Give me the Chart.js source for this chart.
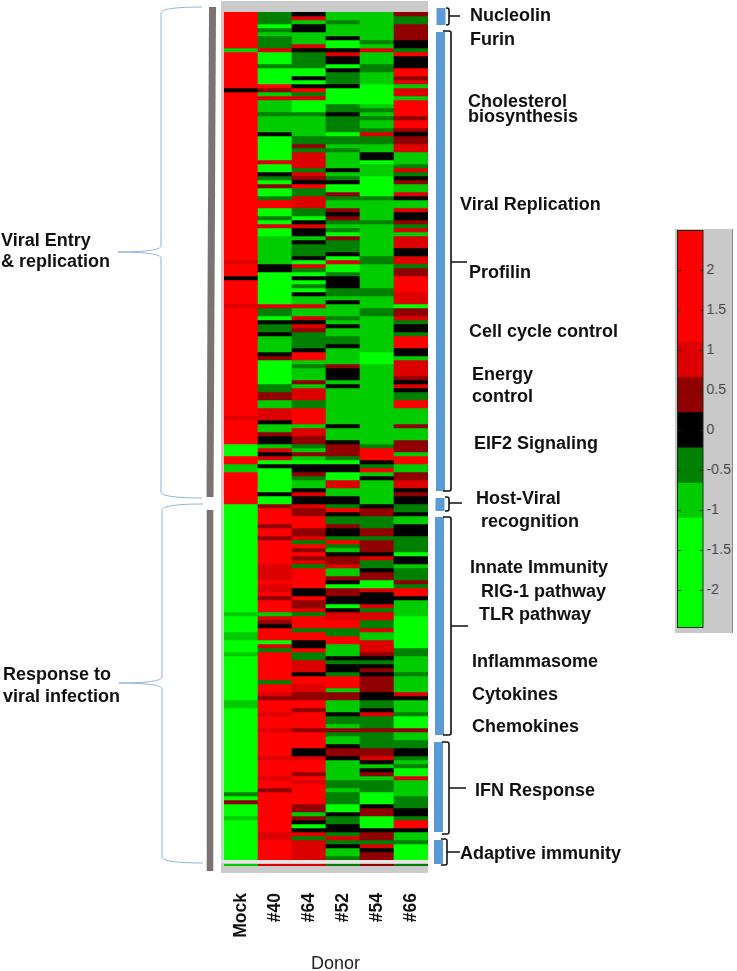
<!DOCTYPE html>
<html>
<head>
<meta charset="utf-8">
<style>
  body { margin: 0; background: #fff; }
  #heat { position: absolute; left: 0; top: 0; }
  #scale { position: absolute; left: 675px; top: 229px; background: #c9c9c9; border-right: 1px solid #8a8a8a; }
</style>
</head>
<body>
<canvas id="heat" width="737" height="971"></canvas>
<canvas id="scale" width="58" height="404"></canvas>
<script src="https://cdn.jsdelivr.net/npm/chart.js@4"></script>
<script>
const donors = ['Mock', '#40', '#64', '#52', '#54', '#66'];

// one value per gene row (10 per line)
const mock = [
  2,2,2,2,2,2,2,2,2,-1,
  2,2,2,2,2,2,2,2,2,0,
  2,2,2,2,2,2,2,2,2,2,
  2,2,2,2,2,2,2,2,2,2,
  2,2,2,2,2,2,2,2,2,2,
  2,2,2,2,2,2,2,2,2,2,
  2,2,1,2,2,2,0,2,2,2,
  2,2,2,1,2,2,2,2,2,2,
  2,2,2,2,2,2,2,2,2,2,
  2,2,2,2,2,2,2,2,2,2,
  2,1,2,2,2,2,2,2,-2,-2,
  -2,2,2,-1,-1,2,2,2,2,2,
  2,2,2,-2,-2,-2,-2,-2,-2,-2,
  -2,-2,-2,-2,-2,-2,-2,-2,-2,-2,
  -2,-2,-2,-2,-2,-2,-2,-2,-2,-2,
  -1,-2,-2,-2,-2,-1,-1,-2,-2,-2,
  -1,-2,-2,-2,-2,-2,-2,-2,-2,-2,
  -2,-2,-1,-1,-2,-2,-2,-2,-2,-2,
  -2,-2,-2,-2,-2,-2,-2,-2,-2,-2,
  -2,-2,-2,-2,-2,-.5,-2,.5,-2,-2,
  -2,-1,-2,-2,-2,-2,-2,-2,-2,-2,
  -2,-2
];
const d40 = [
  -.5,-.5,-.5,-2,-.5,-1,-.5,-.5,-.5,1,
  -2,-2,-2,-.5,-2,-2,-2,-2,2,.5,
  -1,1,-1,-1,-1,-.5,-1,-1,-1,-1,
  0,-2,-2,-2,-2,-2,-2,1,-2,-2,
  0,-.5,-2,.5,-2,-2,-.5,2,2,-2,
  -2,-.5,-2,1,-2,-2,-1,-1,-1,-1,
  -1,-1,-1,0,0,-2,-2,-2,-2,-2,
  -2,-2,-2,1,-.5,-.5,-2,0,-.5,-.5,
  0,-1,-1,-1,-1,0,.5,-2,-2,-2,
  -2,-2,-2,-.5,-.5,.5,.5,-1,-1,1,
  1,1,0,-1,-1,.5,0,0,-1,1,
  0,1,-2,0,-2,-2,-2,-2,-2,-2,
  0,-2,-2,.5,2,2,2,2,.5,2,
  2,.5,2,2,2,2,2,2,1,1,
  1,1,2,1,1,2,.5,2,2,2,
  -1,1,.5,0,2,2,2,-2,1,-.5,
  2,2,2,2,2,2,2,-.5,2,2,
  1,.5,2,2,2,1,2,2,2,1,
  2,2,2,2,2,2,1,2,2,2,
  2,1,2,2,.5,2,2,2,2,2,
  2,2,2,2,2,1,1,2,2,2,
  2,2
];
const d64 = [
  0,1,-1,0,0,-1,-1,-1,1,0,
  -.5,-.5,-.5,-.5,-2,-2,0,-2,0,2,
  -.5,1,-2,-2,-2,-.5,-1,-1,-1,-1,
  -1,-.5,-.5,.5,-.5,1,1,1,1,-.5,
  1,.5,0,2,-.5,-.5,1,1,1,-.5,
  -.5,-2,0,1,0,0,-1,0,-.5,-.5,
  -.5,0,-2,1,-.5,-2,0,-2,-.5,-2,
  0,-1,-1,1,-1,-1,1,0,1,.5,
  -.5,-.5,-.5,-.5,0,2,2,-1,-.5,-1,
  -1,-1,.5,-1,1,1,1,-.5,-.5,2,
  2,2,2,-1,1,1,.5,.5,-.5,-1,
  .5,-1,-2,0,0,.5,-.5,-1,-1,0,
  1,0,0,1,.5,.5,2,2,2,.5,
  .5,1,-.5,2,.5,2,.5,1,-.5,2,
  2,2,2,2,0,0,2,.5,.5,1,
  -.5,2,2,2,-.5,2,2,0,0,2,
  -.5,-.5,1,1,1,0,2,2,1,1,
  .5,.5,2,2,.5,2,2,2,2,.5,
  2,2,2,2,0,0,1,2,2,2,
  .5,2,1,2,2,2,2,2,.5,.5,
  -1,.5,0,-2,0,1,-.5,1,1,1,
  1,1
];
const d52 = [
  -1,-1,-.5,-1,-1,-1,0,-2,-2,0,
  1,0,0,-2,0,-.5,-.5,-.5,0,-2,
  -2,-2,-2,-.5,-.5,0,-.5,-.5,-.5,-.5,
  -2,-.5,-.5,-1,-.5,-1,-1,-1,-1,0,
  -1,-.5,0,-2,-2,.5,-.5,-1,-1,.5,
  0,.5,-.5,-1,-.5,-2,.5,-.5,-.5,-.5,
  0,-2,1,-2,-2,-.5,0,0,0,-.5,
  -.5,-1,0,-1,-1,-1,-.5,-1,0,-1,
  -1,-.5,-.5,0,-1,-1,-1,-1,.5,0,
  0,0,-1,0,-1,-1,-1,-1,-1,-1,
  -1,-1,-1,0,-1,-1,-1,0,.5,.5,
  .5,-.5,-2,0,0,-2,-2,1,1,-1,
  -1,0,0,-.5,2,0,-.5,-.5,.5,0,
  0,-.5,2,-.5,-1,0,.5,.5,1,-1,
  -1,.5,0,-2,.5,.5,0,0,-2,0,
  1,1,2,2,-.5,-.5,2,2,-1,-1,
  -1,0,-.5,0,0,-.5,2,2,2,-1,
  .5,.5,-1,-1,-1,0,-.5,-.5,-1,.5,
  -.5,-1,-1,0,.5,.5,0,-1,-1,-1,
  -1,-1,-.5,-.5,-1,-.5,-.5,-.5,-2,-2,
  0,-.5,-.5,0,0,-.5,1,-.5,0,-1,
  -1,-.5
];
const d54 = [
  -1,-1,-1,-1,-1,-1,-1,-.5,-1,1,
  -1,-1,-1,-.5,-.5,-1,-1,-1,-2,-2,
  -2,-2,-2,-1,-.5,-1,-.5,-1,-1,-.5,
  1,-.5,-.5,-1,-1,0,0,-2,-1,-1,
  -1,-2,-2,-2,-2,-2,-.5,-1,-1,-1,
  -1,-1,-.5,-1,-1,-1,-1,-1,-1,-1,
  -1,-.5,-.5,-1,-1,-1,-1,-1,-1,-.5,
  -.5,-1,-1,-1,-.5,-.5,-1,-1,-1,-1,
  -1,-1,-1,-1,-1,-2,-2,-2,-1,-1,
  -1,-1,-1,-1,-1,-1,-1,-1,-1,-1,
  -1,-1,-1,-1,-1,-1,-1,-1,-.5,2,
  2,2,0,-.5,2,-1,0,-1,-1,-1,
  -1,-1,-1,0,.5,.5,-.5,-.5,-.5,.5,
  .5,-.5,.5,.5,.5,0,1,-.5,-.5,0,
  .5,.5,-2,-2,1,0,0,0,1,-.5,
  1,1,-.5,-.5,1,-1,-1,1,1,1,
  .5,0,-.5,0,.5,0,.5,.5,.5,.5,
  0,0,-.5,-.5,0,1,-.5,-.5,-.5,.5,
  -.5,-.5,-.5,-.5,.5,.5,1,0,-1,0,
  .5,-1,-.5,-.5,-.5,-2,-2,-2,0,.5,
  .5,-2,-2,-2,0,.5,.5,-.5,1,0,
  .5,.5
];
const d66 = [
  .5,-.5,-.5,.5,.5,.5,.5,0,0,-.5,
  2,0,0,0,2,2,.5,1,-1,1,
  1,-1,2,2,2,2,.5,2,2,.5,
  0,.5,.5,1,1,-1,-1,-1,-.5,1,
  -.5,0,.5,-1,-1,1,0,-1,-1,1,
  0,0,.5,-.5,1,-1,1,1,1,0,
  0,1,1,-.5,.5,.5,2,2,2,2,
  1,1,1,-2,.5,.5,1,-.5,0,0,
  -.5,2,2,2,0,0,-1,1,1,1,
  1,.5,0,1,0,-.5,-.5,2,2,-1,
  -1,-1,-1,.5,-1,-1,-1,.5,.5,.5,
  -1,2,2,-1,-1,.5,.5,1,1,0,
  .5,0,0,-.5,-.5,0,-1,-1,0,0,
  0,-.5,-.5,-.5,-.5,-2,0,0,-1,-.5,
  -.5,-.5,.5,-.5,2,2,0,-1,-1,-1,
  -1,-2,-2,-2,-2,-2,-2,-2,-2,-.5,
  -.5,-1,-1,-1,-1,-.5,-1,-1,-1,-1,
  1,0,-1,-1,-1,-.5,-2,-2,-2,.5,
  -1,-1,-.5,-.5,0,0,-.5,-1,-.5,-2,
  -2,1,-1,-1,-1,-1,-.5,-.5,-.5,0,
  0,-.5,2,2,0,-1,-1,-.5,-2,-2,
  -2,-2
];
const columns = [mock, d40, d64, d52, d54, d66];
const footRow = [-1, 1, 1, -.5, .5, -.5];

// colour scale: band edges and the colour of each band
const bandEdges = [-2.46, -1.1, -.66, -.22, .22, .66, 1.1, 2.49];
const bandColors = ['#00ff00', '#00cc00', '#008000', '#000000', '#900000', '#dc0000', '#ff0000'];
const scaleTicks = [2, 1.5, 1, .5, 0, -.5, -1, -1.5, -2];

function colorOf(v) {
  for (let i = 0; i < bandColors.length; i++) {
    if (v < bandEdges[i + 1]) return bandColors[i];
  }
  return bandColors[bandColors.length - 1];
}

// side labels: text, x, baseline y
const sideLabels = [
  ['Nucleolin', 470, 21], ['Furin', 470, 45],
  ['Cholesterol', 468, 107], ['biosynthesis', 468, 122],
  ['Viral Replication', 460, 210], ['Profilin', 469, 278],
  ['Cell cycle control', 469, 337], ['Energy', 472, 380], ['control', 472, 402],
  ['EIF2 Signaling', 474, 449], ['Host-Viral', 476, 504], ['recognition', 481, 527],
  ['Innate Immunity', 470, 573], ['RIG-1 pathway', 481, 597], ['TLR pathway', 479, 620],
  ['Inflammasome', 472, 667], ['Cytokines', 472, 700], ['Chemokines', 472, 732],
  ['IFN Response', 475, 796], ['Adaptive immunity', 460, 859],
  ['Viral Entry', 1, 246], ['& replication', 1, 267],
  ['Response to', 3, 680], ['viral infection', 3, 702]
];
// blue group bars: left, top, right, bottom
const blueBars = [
  [436.5, 8, 445.5, 25], [436, 32, 445, 491], [435.5, 498, 444.5, 511],
  [435, 517, 444, 735], [434, 742, 443, 832], [434, 840, 443, 864]
];
// black brackets: hook x, spine x, top, bottom, stem y, stem end x
const brackets = [
  [446, 449, 8, 25, 16, 460], [443, 451, 31, 491, 262, 467], [445, 449, 497, 511, 503, 462],
  [443, 451, 517, 735, 626, 468], [442, 449, 742, 834, 788, 466], [441, 447, 839, 865, 852, 460]
];
// light blue curly braces: spine x, tip x, top, tip y, bottom, end x
const braces = [
  [161, 118, 7, 252, 498, 202],
  [162, 119, 504, 683, 863, 203]
];

const decorations = {
  id: 'decorations',
  beforeDatasetsDraw(chart) {
    const ctx = chart.ctx;
    const x = chart.scales.x;
    ctx.save();
    // grey frame of the heatmap window
    ctx.fillStyle = '#cbcbcb';
    ctx.fillRect(221, 1, 207, 872);
    ctx.fillStyle = '#e9e4e4';
    ctx.fillRect(221, 860, 207, 3);
    ctx.fillStyle = '#f2b8b8';
    ctx.fillRect(222, 12, 2, 491);
    ctx.fillStyle = '#a8e8a8';
    ctx.fillRect(222, 503, 2, 357);
    footRow.forEach((v, i) => {
      ctx.fillStyle = colorOf(v);
      ctx.fillRect(x.getPixelForValue(i) - 17, 864, 34, 2);
    });
    ctx.restore();
  },
  afterDraw(chart) {
    const ctx = chart.ctx;
    ctx.save();
    // grey group bars on the left
    ctx.fillStyle = '#7b7373';
    ctx.beginPath();
    ctx.moveTo(209, 7); ctx.lineTo(216, 7); ctx.lineTo(213.5, 497); ctx.lineTo(206.5, 497);
    ctx.fill();
    ctx.fillRect(206.7, 510, 6.6, 361);

    ctx.fillStyle = '#5b9bd5';
    blueBars.forEach(b => ctx.fillRect(b[0], b[1], b[2] - b[0], b[3] - b[1]));

    ctx.strokeStyle = '#111';
    ctx.lineWidth = 1.6;
    brackets.forEach(b => {
      ctx.beginPath();
      ctx.moveTo(b[0], b[2]);
      ctx.lineTo(b[1] - 2, b[2]);
      ctx.quadraticCurveTo(b[1], b[2], b[1], b[2] + 2);
      ctx.lineTo(b[1], b[3] - 2);
      ctx.quadraticCurveTo(b[1], b[3], b[1] - 2, b[3]);
      ctx.lineTo(b[0], b[3]);
      ctx.moveTo(b[1], b[4]);
      ctx.lineTo(b[5], b[4]);
      ctx.stroke();
    });

    ctx.strokeStyle = '#8db4dc';
    ctx.lineWidth = 1;
    braces.forEach(b => {
      const [sx, tx, top, tip, bottom, ex] = b;
      ctx.beginPath();
      ctx.moveTo(ex, top);
      ctx.bezierCurveTo(sx + 15, top, sx, top + 2, sx, top + 6);
      ctx.lineTo(sx, tip - 6);
      ctx.bezierCurveTo(sx, tip - 1, sx - 25, tip, tx, tip);
      ctx.bezierCurveTo(sx - 25, tip, sx, tip + 1, sx, tip + 6);
      ctx.lineTo(sx, bottom - 6);
      ctx.bezierCurveTo(sx, bottom - 2, sx + 15, bottom, ex, bottom);
      ctx.stroke();
    });

    ctx.fillStyle = '#111';
    ctx.textBaseline = 'alphabetic';
    ctx.textAlign = 'left';
    ctx.font = 'bold 18px "Liberation Sans", Arial, sans-serif';
    sideLabels.forEach(l => ctx.fillText(l[0], l[1], l[2]));
    ctx.font = '18px "Liberation Sans", Arial, sans-serif';
    ctx.fillStyle = '#222';
    ctx.fillText('Donor', 311, 969);
    ctx.restore();
  }
};

new Chart(document.getElementById('heat'), {
  type: 'bar',
  data: {
    labels: donors,
    datasets: mock.map((_, row) => ({
      data: columns.map(() => [row, row + 1]),
      backgroundColor: columns.map(c => colorOf(c[row])),
      borderWidth: 0,
      barPercentage: 1,
      categoryPercentage: 1,
      grouped: false
    }))
  },
  options: {
    responsive: false,
    animation: false,
    layout: { padding: { left: 224, right: 309, top: 12, bottom: 0 } },
    plugins: { legend: { display: false }, tooltip: { enabled: false } },
    scales: {
      x: {
        grid: { display: false },
        border: { display: false },
        afterFit(scale) { scale.height = 111; },
        ticks: {
          autoSkip: false,
          minRotation: 90,
          maxRotation: 90,
          padding: 25,
          color: '#111',
          font: { family: '"Liberation Sans", Arial, sans-serif', size: 17.5, weight: 'bold' }
        }
      },
      y: {
        display: false,
        reverse: true,
        min: 0,
        max: mock.length
      }
    }
  },
  plugins: [decorations]
});

const scaleFrame = {
  id: 'scaleFrame',
  afterDraw(chart) {
    const ctx = chart.ctx;
    const a = chart.chartArea;
    const y = chart.scales.y;
    ctx.save();
    ctx.strokeStyle = '#1a2a1a';
    ctx.lineWidth = 1;
    ctx.strokeRect(a.left - .5, a.top - .5, a.right - a.left + 1, a.bottom - a.top + 1);
    scaleTicks.forEach(t => {
      const py = Math.round(y.getPixelForValue(t)) + .5;
      ctx.beginPath();
      ctx.moveTo(a.left, py); ctx.lineTo(a.left + 3, py);
      ctx.moveTo(a.right - 3, py); ctx.lineTo(a.right, py);
      ctx.stroke();
    });
    ctx.restore();
  }
};

new Chart(document.getElementById('scale'), {
  type: 'bar',
  data: {
    labels: ['scale'],
    datasets: bandColors.map((color, i) => ({
      data: [[bandEdges[i], bandEdges[i + 1]]],
      backgroundColor: color,
      borderWidth: 0,
      barPercentage: 1,
      categoryPercentage: 1,
      grouped: false
    }))
  },
  options: {
    responsive: false,
    animation: false,
    layout: { padding: { left: 3, right: 0, top: 2, bottom: 6 } },
    plugins: { legend: { display: false }, tooltip: { enabled: false } },
    scales: {
      x: { display: false },
      y: {
        position: 'right',
        min: bandEdges[0],
        max: bandEdges[bandEdges.length - 1],
        grid: { display: false, drawTicks: false },
        border: { display: false },
        afterBuildTicks(scale) { scale.ticks = scaleTicks.map(v => ({ value: v })); },
        afterFit(scale) {
          scale.width = 30;
          scale.paddingTop = 0;
          scale.paddingBottom = 0;
        },
        ticks: {
          padding: 4,
          color: '#444',
          callback: v => String(v),
          font: { family: '"Liberation Sans", Arial, sans-serif', size: 14.5 }
        }
      }
    }
  },
  plugins: [scaleFrame]
});
</script>
</body>
</html>
